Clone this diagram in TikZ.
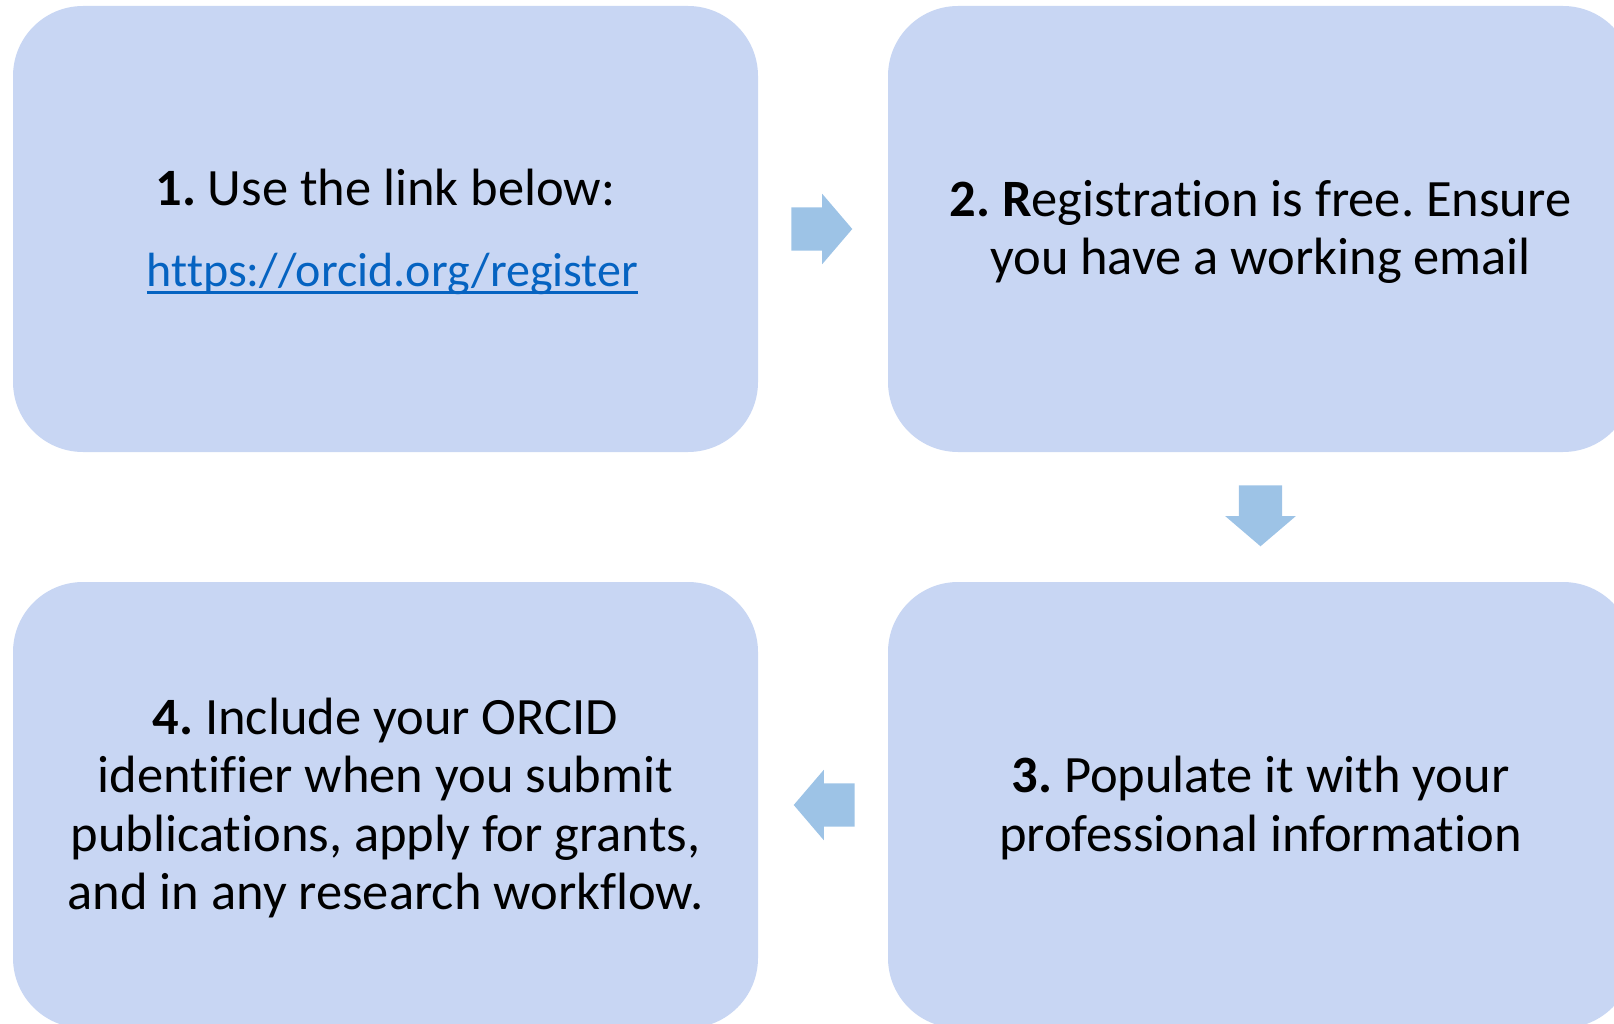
\documentclass[tikz,border=0pt]{standalone}
\usepackage{fontspec}
\setmainfont[Ligatures={NoCommon,NoRequired,NoContextual,NoDiscretionary},Contextuals={NoAlternate}]{Carlito}
\usetikzlibrary{shapes.arrows,calc}
\frenchspacing
\definecolor{boxfill}{RGB}{200,214,243}
\definecolor{arrowfill}{RGB}{157,195,230}
\definecolor{linkblue}{RGB}{5,99,193}
\newcommand\ulink[1]{\setbox0\hbox{#1}\rlap{\rule[-7pt]{\wd0}{2.5pt}}\box0}
\tikzset{
  stepbox/.style={rectangle, rounded corners=70pt, fill=boxfill, draw=none,
    minimum width=745pt, minimum height=446pt, inner sep=0pt},
  steptext/.style={inner sep=0pt, align=center, yshift=-3pt,
    font=\fontsize{52.5pt}{58.5pt}\selectfont\frenchspacing},
  flowarrow/.style={single arrow, fill=arrowfill, draw=none, inner sep=0pt,
    minimum height=61pt, single arrow head extend=13.5pt,
    single arrow tip angle=99}
}
\begin{document}
\begin{tikzpicture}[x=1pt,y=-1pt]
\useasboundingbox (0,0) rectangle (1614,1024);
\node[stepbox] (b1) at (385.5,229) {};
\node[stepbox] (b2) at (1260.5,229) {};
\node[stepbox] (b3) at (1260.5,805) {};
\node[stepbox] (b4) at (385.5,805) {};
\node[steptext] (t1) at (b1.center) {\textbf{1.} Use the link below:\\[23pt]
  \hspace*{14pt}{\fontsize{48pt}{58.5pt}\selectfont\color{linkblue}\ulink{https://orcid.org/register}}};
\node[steptext] (t2) at (b2.center) {\textbf{2.} \textbf{R}egistration is free. Ensure\\
  you have a working email};
\node[steptext] (t3) at (b3.center) {\textbf{3.} Populate it with your\\
  professional information};
\node[steptext] (t4) at (b4.center) {\textbf{4.} Include your ORCID\\
  identifier when you submit\\ publications, apply for grants,\\
  and in any research workflow.};
\node[flowarrow, xshift=-10.5pt] (a12) at ($(b1.east)!0.5!(b2.west)$) {\rule{0pt}{43pt}};
\node[flowarrow, shape border rotate=270, yshift=10.5pt] (a23) at ($(b2.south)!0.5!(b3.north)$) {\rule{43pt}{0pt}};
\node[flowarrow, shape border rotate=180, xshift=10.5pt] (a34) at ($(b3.west)!0.5!(b4.east)$) {\rule{0pt}{43pt}};
\end{tikzpicture}
\end{document}
